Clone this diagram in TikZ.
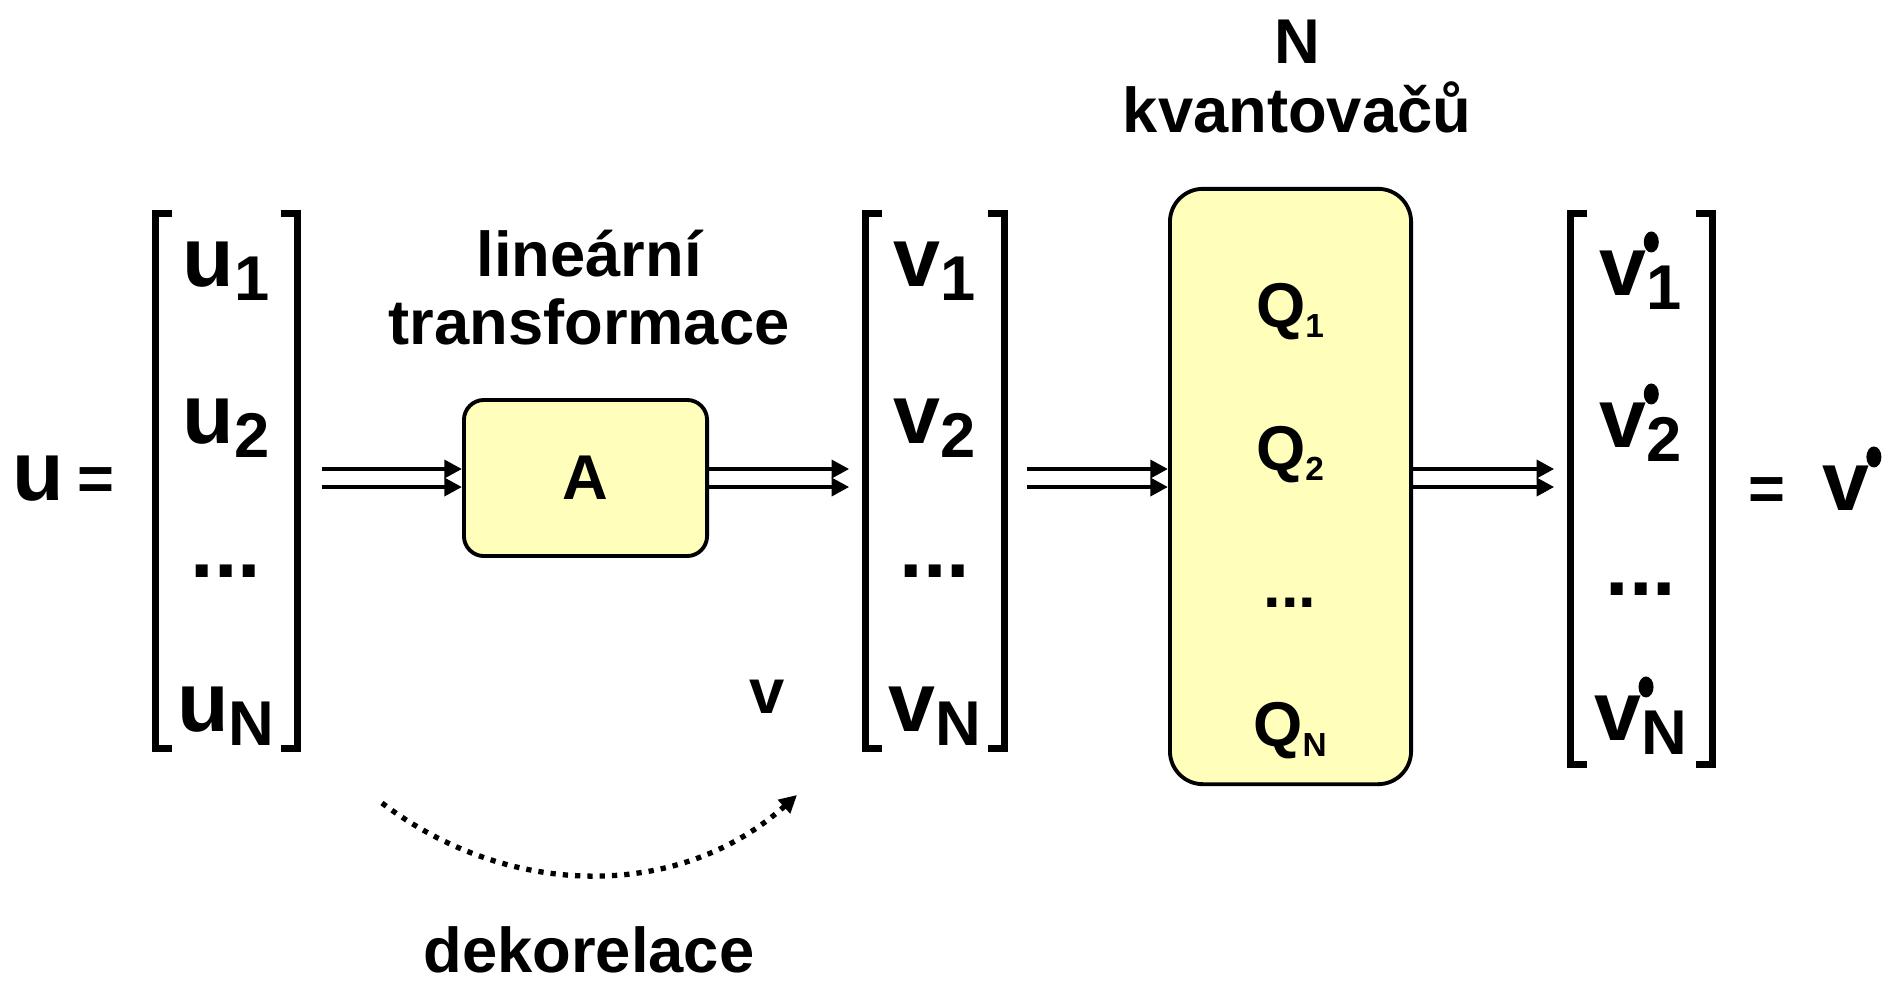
\documentclass[tikz,border=0pt]{standalone}
\usepackage{fontspec}
\setmainfont{Liberation Sans}
\usetikzlibrary{arrows.meta}
\definecolor{boxyellow}{RGB}{255,255,187}
\newcommand{\vsub}[2]{#1\raisebox{-4pt}{\fontsize{18}{18}\selectfont #2}}
\newcommand{\qsub}[1]{Q\raisebox{-3pt}{\fontsize{9.5}{9.5}\selectfont #1}}
\begin{document}
\begin{tikzpicture}[x=0.01cm,y=-0.01cm,
  big/.style={font=\fontsize{24}{24}\selectfont\bfseries,anchor=base,inner sep=0pt},
  mid/.style={font=\fontsize{18}{18}\selectfont\bfseries,anchor=base,inner sep=0pt},
  col/.style={minimum width=1.41cm,inner sep=0pt},
  blk/.style={draw,line width=1.1pt,fill=boxyellow,inner sep=0pt,
    font=\fontsize{18}{18}\selectfont\bfseries},
  brk/.style={line width=2pt},
  primedot/.style={x radius=0.075cm,y radius=0.105cm},
  arr/.style={line width=1.4pt,-{Triangle[length=5pt,width=5pt]}}]
  \useasboundingbox (0,0) rectangle (1886,984);
  % Vector columns and blocks
  \node[col,minimum height=5.34cm] (ucol) at (226.5,481) {};
  \node[col,minimum height=5.34cm,minimum width=1.38cm] (vcol) at (935,481) {};
  \node[col,minimum height=5.50cm] (wcol) at (1641.5,489) {};
  \node[blk,rounded corners=0.2cm,minimum width=2.43cm,minimum height=1.56cm] (A) at (585.5,478) {A};
  \node[blk,rounded corners=0.33cm,minimum width=2.41cm,minimum height=5.95cm] (Q) at (1290.5,486.5) {};
  % Brackets
  \foreach \c in {ucol,vcol,wcol} {
    \draw[brk] ([xshift=0.17cm]\c.north west) -| (\c.south west) -- ++(17,0);
    \draw[brk] ([xshift=-0.17cm]\c.north east) -| (\c.south east) -- ++(-17,0);
  }
  % Entries
  \foreach \s/\y in {1/286,2/443,N/731} {
    \node[big] (u\s) at (226,\y) {\vsub{u}{\s}};
    \node[big] (v\s) at (935,\y) {\vsub{v}{\s}};
  }
  \node[big] (udots) at (226,577) {...};
  \node[big] (vdots) at (935,577) {...};
  \foreach \s/\y in {1/295,2/447,N/740} {
    \node[big] (w\s) at (1641,\y) {\vsub{v}{\s}};
    \fill ([xshift=0.52cm,yshift=0.53cm]w\s.base west) ellipse[primedot];
  }
  \node[big] (wdots) at (1641,595) {...};
  \foreach \s/\y in {1/327,2/470,N/746}
    \node[mid] (q\s) at (1290,\y) {\qsub{\s}};
  \node[mid] (qdots) at (1290,607) {...};
  % Left and right names
  \node[big] (uname) at (38,500) {u};
  \node[mid] (ueq) at (96,500) {=};
  \node[mid] (weq) at (1767,510) {=};
  \node[big] (wname) at (1846,510) {v};
  \fill ([xshift=0.52cm,yshift=0.53cm]wname.base west) ellipse[primedot];
  % Labels
  \node[mid] (lin) at (589,276) {lineární};
  \node[mid] (trans) at (589,344) {transformace};
  \node[mid] (vlab) at (767,713) {v};
  \node[mid] (dekor) at (589,972) {dekorelace};
  \node[mid] (ntitle) at (1297,63) {N};
  \node[mid] (kvant) at (1297,132) {kvantovačů};
  % Double arrows
  \foreach \y in {469,487} {
    \draw[arr,shorten <=0.24cm] (ucol.east |- 0,\y) -- (A.west |- 0,\y);
    \draw[arr,shorten >=0.16cm] (A.east |- 0,\y) -- (vcol.west |- 0,\y);
    \draw[arr,shorten <=0.22cm] (vcol.east |- 0,\y) -- (Q.west |- 0,\y);
    \draw[arr,shorten >=0.16cm] (Q.east |- 0,\y) -- (wcol.west |- 0,\y);
  }
  % Decorrelation arc
  \coordinate (decS) at (382,803);
  \coordinate (decE) at (797,795);
  \draw[line width=1.5pt,dash pattern=on 1.5pt off 2pt,-{Triangle[length=5pt,width=5pt]}]
    (decS) .. controls (510,900) and (680,900) .. (decE);
\end{tikzpicture}
\end{document}
